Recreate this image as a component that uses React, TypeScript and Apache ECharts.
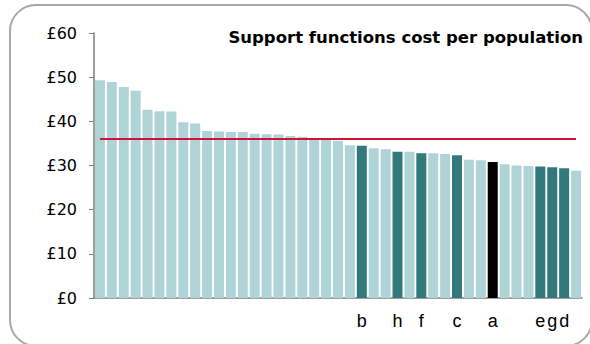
import React, { useEffect, useRef } from "react";
import * as echarts from "echarts";

const TITLE = "Support functions cost per population";

// one entry per bar, sorted as in the picture
const VALUES = [
  49.3, 48.9, 47.8, 46.9, 42.6, 42.3, 42.2, 39.8, 39.5, 37.8,
  37.7, 37.6, 37.6, 37.2, 37.1, 37.0, 36.7, 36.5, 36.0, 35.8,
  35.6, 34.6, 34.5, 33.9, 33.7, 33.1, 33.1, 32.8, 32.8, 32.6,
  32.3, 31.3, 31.2, 30.8, 30.3, 30.0, 29.9, 29.8, 29.6, 29.4,
  28.8,
];

// x labels (blank for unnamed bars)
const LABELS = [
  "", "", "", "", "", "", "", "", "", "",
  "", "", "", "", "", "", "", "", "", "",
  "", "", "b", "", "", "h", "", "f", "", "",
  "c", "", "", "a", "", "", "", "e", "g", "d",
  "",
];

// highlighted bars: "a" is the subject, other letters are the comparison group
const SUBJECT = ["a"];
const GROUP = ["b", "c", "d", "e", "f", "g", "h"];

const AVERAGE = 36.0;

const Y_TICKS = { min: 0, max: 60, interval: 10 };

const COLOR_BASE = "#aed4d8";
const COLOR_GROUP = "#31797a";
const COLOR_SUBJECT = "#000000";
const COLOR_AVG = "#d2123c";

export default function App() {
  const ref = useRef<HTMLDivElement>(null);

  useEffect(() => {
    if (!ref.current) return;
    const chart = echarts.init(ref.current, null, { renderer: "svg" });

    const barData = VALUES.map((v, i) => {
      const lab = LABELS[i];
      let color = COLOR_BASE;
      if (SUBJECT.includes(lab)) color = COLOR_SUBJECT;
      else if (GROUP.includes(lab)) color = COLOR_GROUP;
      return { value: v, itemStyle: { color } };
    });

    chart.setOption({
      animation: false,
      backgroundColor: "#ffffff",
      title: {
        text: TITLE,
        right: 7,
        top: 29,
        padding: 0,
        textStyle: {
          fontFamily: "DejaVu Sans",
          fontWeight: "bold",
          fontSize: 16.5,
          color: "#000",
        },
      },
      graphic: [
        {
          type: "rect",
          shape: { x: 10, y: 5, width: 582, height: 341, r: 26 },
          style: { fill: "none", stroke: "#a8a8a8", lineWidth: 2 },
          silent: true,
          z: -1,
        },
      ],
      grid: { left: 94, right: 8, top: 33, bottom: 46, containLabel: false },
      xAxis: {
        type: "category",
        data: LABELS.map((l, i) => ({ value: l || " " + i })),
        boundaryGap: true,
        axisTick: { show: false },
        axisLine: { show: true, lineStyle: { color: "#7f7f7f", width: 1.5 } },
        axisLabel: {
          interval: 0,
          margin: 14,
          fontFamily: "Liberation Sans, Arial, sans-serif",
          fontSize: 18,
          color: "#000",
          formatter: (v: string) => (v.startsWith(" ") ? "" : v),
        },
      },
      yAxis: {
        type: "value",
        min: Y_TICKS.min,
        max: Y_TICKS.max,
        interval: Y_TICKS.interval,
        splitLine: { show: false },
        axisLine: { show: true, lineStyle: { color: "#7f7f7f", width: 1.5 } },
        axisTick: { show: true, length: 5, lineStyle: { color: "#7f7f7f", width: 1 } },
        axisLabel: {
          margin: 17,
          fontFamily: "DejaVu Sans",
          fontSize: 16,
          color: "#000",
          formatter: (v: number) => "£" + v,
        },
      },
      series: [
        {
          type: "bar",
          data: barData,
          barCategoryGap: "16%",
          z: 2,
        },
        {
          type: "line",
          data: VALUES.map(() => AVERAGE),
          symbol: "none",
          lineStyle: { color: COLOR_AVG, width: 2.2 },
          z: 3,
          silent: true,
        },
      ],
    });

    return () => chart.dispose();
  }, []);

  return (
    <div
      ref={ref}
      style={{ position: "absolute", left: 0, top: 0, width: 590, height: 344 }}
    />
  );
}
